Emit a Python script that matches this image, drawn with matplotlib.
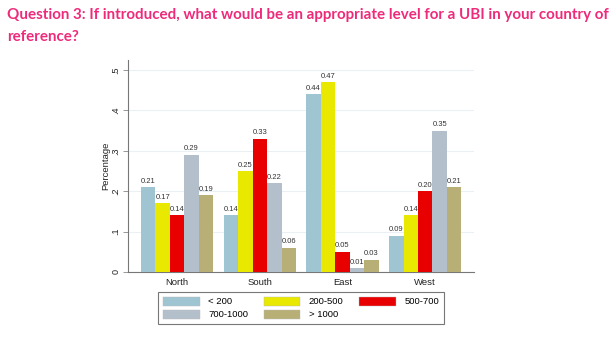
import matplotlib
matplotlib.use("Agg")
import matplotlib.pyplot as plt
import numpy as np
from matplotlib.patches import Patch

# Regions and income brackets
regions = ["North", "South", "East", "West"]
brackets = ["< 200", "200-500", "500-700", "700-1000", "> 1000"]

# Share of respondents per bracket, one list per bracket (North, South, East, West)
lt200 = [0.21, 0.14, 0.44, 0.09]
b200_500 = [0.17, 0.25, 0.47, 0.14]
b500_700 = [0.14, 0.33, 0.05, 0.20]
b700_1000 = [0.29, 0.22, 0.01, 0.35]
gt1000 = [0.19, 0.06, 0.03, 0.21]

yticks = [0, 0.1, 0.2, 0.3, 0.4, 0.5]
ytick_labels = ["0", ".1", ".2", ".3", ".4", ".5"]

series = [lt200, b200_500, b500_700, b700_1000, gt1000]
colors = ["#9fc5d2", "#e8e800", "#e80000", "#b4bfcc", "#b7af76"]

W, H = 616, 339
fig = plt.figure(figsize=(W / 100, H / 100), dpi=100)
fig.patch.set_facecolor("white")

chart_font = "Liberation Sans"

ax = fig.add_axes([128 / W, 1 - 272 / H, (474 - 128) / W, (272 - 60) / H])

x = np.arange(len(regions))
bw = 0.175
for i, (vals, col) in enumerate(zip(series, colors)):
    pos = x + (i - 2) * bw
    ax.bar(pos, vals, width=bw, color=col, edgecolor="none", zorder=3,
           label=brackets[i])
    for p, v in zip(pos, vals):
        ax.text(p, v + 0.006, f"{v:.2f}", ha="center", va="bottom",
                fontsize=5.5, color="#333333", family=chart_font, zorder=4)

ax.set_xlim(-0.594, 3.59)
ax.set_ylim(0, 0.525)
ax.set_yticks(yticks)
ax.set_yticklabels(ytick_labels, rotation=90, va="center",
                   fontsize=6.5, family=chart_font, color="#222222")
ax.set_xticks(x)
ax.set_xticklabels(regions, fontsize=6.8, family=chart_font, color="#222222")
ax.tick_params(axis="x", length=0, pad=4)
ax.tick_params(axis="y", length=3.5, width=0.6, color="#888888", pad=2)
ax.grid(axis="y", color="#eaf0f3", linewidth=0.8, zorder=0)
ax.set_axisbelow(True)
for s in ["top", "right"]:
    ax.spines[s].set_visible(False)
for s in ["left", "bottom"]:
    ax.spines[s].set_color("#777777")
    ax.spines[s].set_linewidth(0.8)
ax.set_ylabel("Percentage", fontsize=6.8, family=chart_font, color="#222222",
              labelpad=1)

# legend laid out row by row in three columns
handles = [Patch(facecolor=c, edgecolor="#bbbbbb", linewidth=0.3) for c in colors]
order = [0, 3, 1, 4, 2]
leg = fig.legend([handles[k] for k in order], [brackets[k] for k in order],
                 ncol=3, loc="center", bbox_to_anchor=(301 / W, 1 - 308 / H),
                 prop={"family": chart_font, "size": 6.8},
                 handlelength=3.9, handleheight=1.1, handletextpad=0.9,
                 columnspacing=1.65, labelspacing=0.35, borderpad=0.45,
                 fancybox=False, frameon=True)
leg.get_frame().set_edgecolor("#555555")
leg.get_frame().set_linewidth(0.8)

# title, sized so the first line spans the figure width
title_color = "#ee2a7b"
line1 = "Question 3: If introduced, what would be an appropriate level for a UBI in your country of"
t1 = fig.text(7 / W, 1 - 15 / H, line1, ha="left", va="center", fontsize=12,
              fontweight="bold", family="Lato", color=title_color)
renderer = fig.canvas.get_renderer()
width_px = t1.get_window_extent(renderer).width
size = 12 * 598 / width_px
t1.set_fontsize(size)
fig.text(7 / W, 1 - 37 / H, "reference?", ha="left", va="center",
         fontsize=size, fontweight="bold", family="Lato", color=title_color)

fig.savefig("out.png", dpi=100, facecolor="white")
